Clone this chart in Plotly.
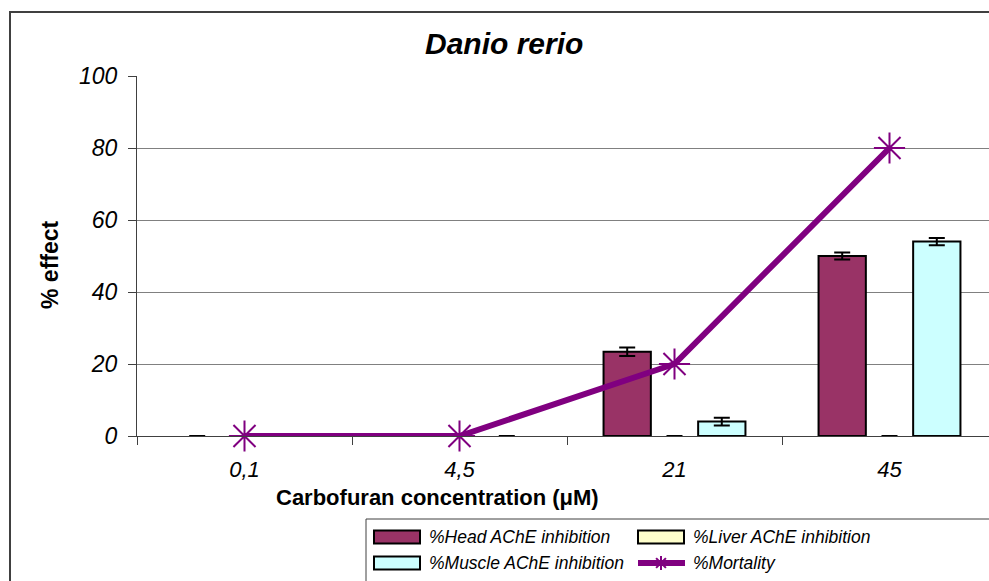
import plotly.graph_objects as go

# Carbofuran concentrations (µM) shown as categories
concentrations = ["0,1", "4,5", "21", "45"]

head_inhibition = [0, 0, 23.4, 50.0]
head_err = [0, 0, 1.2, 1.0]

liver_inhibition = [0, 0, 0, 0]
liver_err = [0, 0, 0, 0]

muscle_inhibition = [0, 0, 4.0, 54.0]
muscle_err = [0, 0, 1.1, 1.0]

mortality = [0, 0, 20, 80]
mortality_err = [0, 0, 0, 0]

y_ticks = [0, 20, 40, 60, 80, 100]

FONT = "Liberation Sans, Arial, sans-serif"
HEAD_C = "#993366"
LIVER_C = "#FFFFCC"
MUSCLE_C = "#CCFFFF"
MORT_C = "#800080"

W, H = 989, 581
ML, MR, MT, MB = 137, 0, 76, 145
PW = W - ML - MR
PH = H - MT - MB


def px_x(p):
    return (p - ML) / PW


def px_y(p):
    return (H - MB - p) / PH


fig = go.Figure()


def bar_trace(name, vals, errs, color):
    # empty bars get no outline so only their zero error caps remain
    return go.Bar(
        name=name,
        x=concentrations,
        y=vals,
        marker=dict(color=color,
                    line=dict(color="black", width=[2 if v > 0 else 0 for v in vals])),
        error_y=dict(type="data", array=errs, visible=True,
                     color="black", thickness=2, width=8),
        cliponaxis=False,
        showlegend=False,
    )


fig.add_trace(bar_trace("%Head AChE inhibition", head_inhibition, head_err, HEAD_C))
fig.add_trace(bar_trace("%Liver AChE inhibition", liver_inhibition, liver_err, LIVER_C))
fig.add_trace(bar_trace("%Muscle AChE inhibition", muscle_inhibition, muscle_err, MUSCLE_C))

fig.add_trace(go.Scatter(
    name="%Mortality",
    x=concentrations,
    y=mortality,
    mode="lines+markers",
    line=dict(color=MORT_C, width=6),
    marker=dict(symbol="asterisk-open", size=26, color=MORT_C,
                line=dict(color=MORT_C, width=2)),
    error_y=dict(type="data", array=mortality_err, visible=True,
                 color="black", thickness=2, width=8),
    cliponaxis=False,
    showlegend=False,
))

cat_span = PW / 215.0
fig.update_layout(
    width=W, height=H,
    margin=dict(l=ML, r=MR, t=MT, b=MB, pad=0),
    paper_bgcolor="white",
    plot_bgcolor="white",
    barmode="group",
    bargap=0.34,
    bargroupgap=0,
    font=dict(family=FONT, color="black"),
    xaxis=dict(
        type="category",
        range=[-0.5, -0.5 + cat_span],
        showgrid=False,
        showline=True, linecolor="#404040", linewidth=1,
        ticks="outside", tickson="boundaries", ticklen=8,
        tickcolor="#404040", tickwidth=1,
        tickfont=dict(family=FONT, size=22, style="italic"),
        ticklabelstandoff=14,
    ),
    yaxis=dict(
        range=[0, 100],
        tickvals=y_ticks,
        showgrid=True, gridcolor="#808080", gridwidth=1,
        zeroline=False,
        showline=True, linecolor="#404040", linewidth=1,
        ticks="outside", ticklen=8, tickcolor="#404040", tickwidth=1,
        tickfont=dict(family=FONT, size=23, style="italic"),
        ticklabelstandoff=6,
    ),
)

annotations = [
    dict(text="<b><i>Danio rerio</i></b>", x=px_x(504), y=px_y(43),
         font=dict(family=FONT, size=30)),
    dict(text="<b>Carbofuran concentration (μM)</b>", x=px_x(437), y=px_y(497),
         font=dict(family=FONT, size=22)),
    dict(text="<b>% effect</b>", x=px_x(50), y=px_y(265), textangle=-90,
         font=dict(family=FONT, size=23)),
]

# Legend drawn by hand: wide swatches in two columns
legend_items = [
    ("%Head AChE inhibition", 374, 537, "bar", HEAD_C),
    ("%Liver AChE inhibition", 638, 537, "bar", LIVER_C),
    ("%Muscle AChE inhibition", 374, 563, "bar", MUSCLE_C),
    ("%Mortality", 638, 563, "line", MORT_C),
]

shapes = [
    # chart frame
    dict(type="rect", xref="paper", yref="paper",
         x0=px_x(10), x1=px_x(1010), y0=px_y(12), y1=px_y(620),
         line=dict(color="#404040", width=2), fillcolor="rgba(0,0,0,0)", layer="below"),
    # legend frame
    dict(type="rect", xref="paper", yref="paper",
         x0=px_x(366), x1=px_x(1010), y0=px_y(519), y1=px_y(620),
         line=dict(color="#404040", width=1), fillcolor="rgba(0,0,0,0)"),
]

for label, sx, cy, kind, color in legend_items:
    if kind == "bar":
        shapes.append(dict(type="rect", xref="paper", yref="paper",
                           x0=px_x(sx), x1=px_x(sx + 46),
                           y0=px_y(cy - 6.5), y1=px_y(cy + 6.5),
                           fillcolor=color, line=dict(color="black", width=2)))
    else:
        mx = sx + 23
        shapes.append(dict(type="line", xref="paper", yref="paper",
                           x0=px_x(sx), x1=px_x(sx + 47), y0=px_y(cy), y1=px_y(cy),
                           line=dict(color=color, width=6)))
        r = 7
        for dx, dy in [(0, r), (r * 0.7, r * 0.7), (-r * 0.7, r * 0.7)]:
            shapes.append(dict(type="line", xref="paper", yref="paper",
                               x0=px_x(mx - dx), x1=px_x(mx + dx),
                               y0=px_y(cy - dy), y1=px_y(cy + dy),
                               line=dict(color=color, width=2)))
    annotations.append(dict(text=f"<i>{label}</i>", x=px_x(sx + 53), y=px_y(cy),
                            xanchor="left", font=dict(family=FONT, size=17.5)))

for a in annotations:
    a.setdefault("xref", "paper")
    a.setdefault("yref", "paper")
    a.setdefault("xanchor", "center")
    a.setdefault("yanchor", "middle")
    a.setdefault("showarrow", False)

fig.update_layout(annotations=annotations, shapes=shapes)

fig.write_html("out.html")
